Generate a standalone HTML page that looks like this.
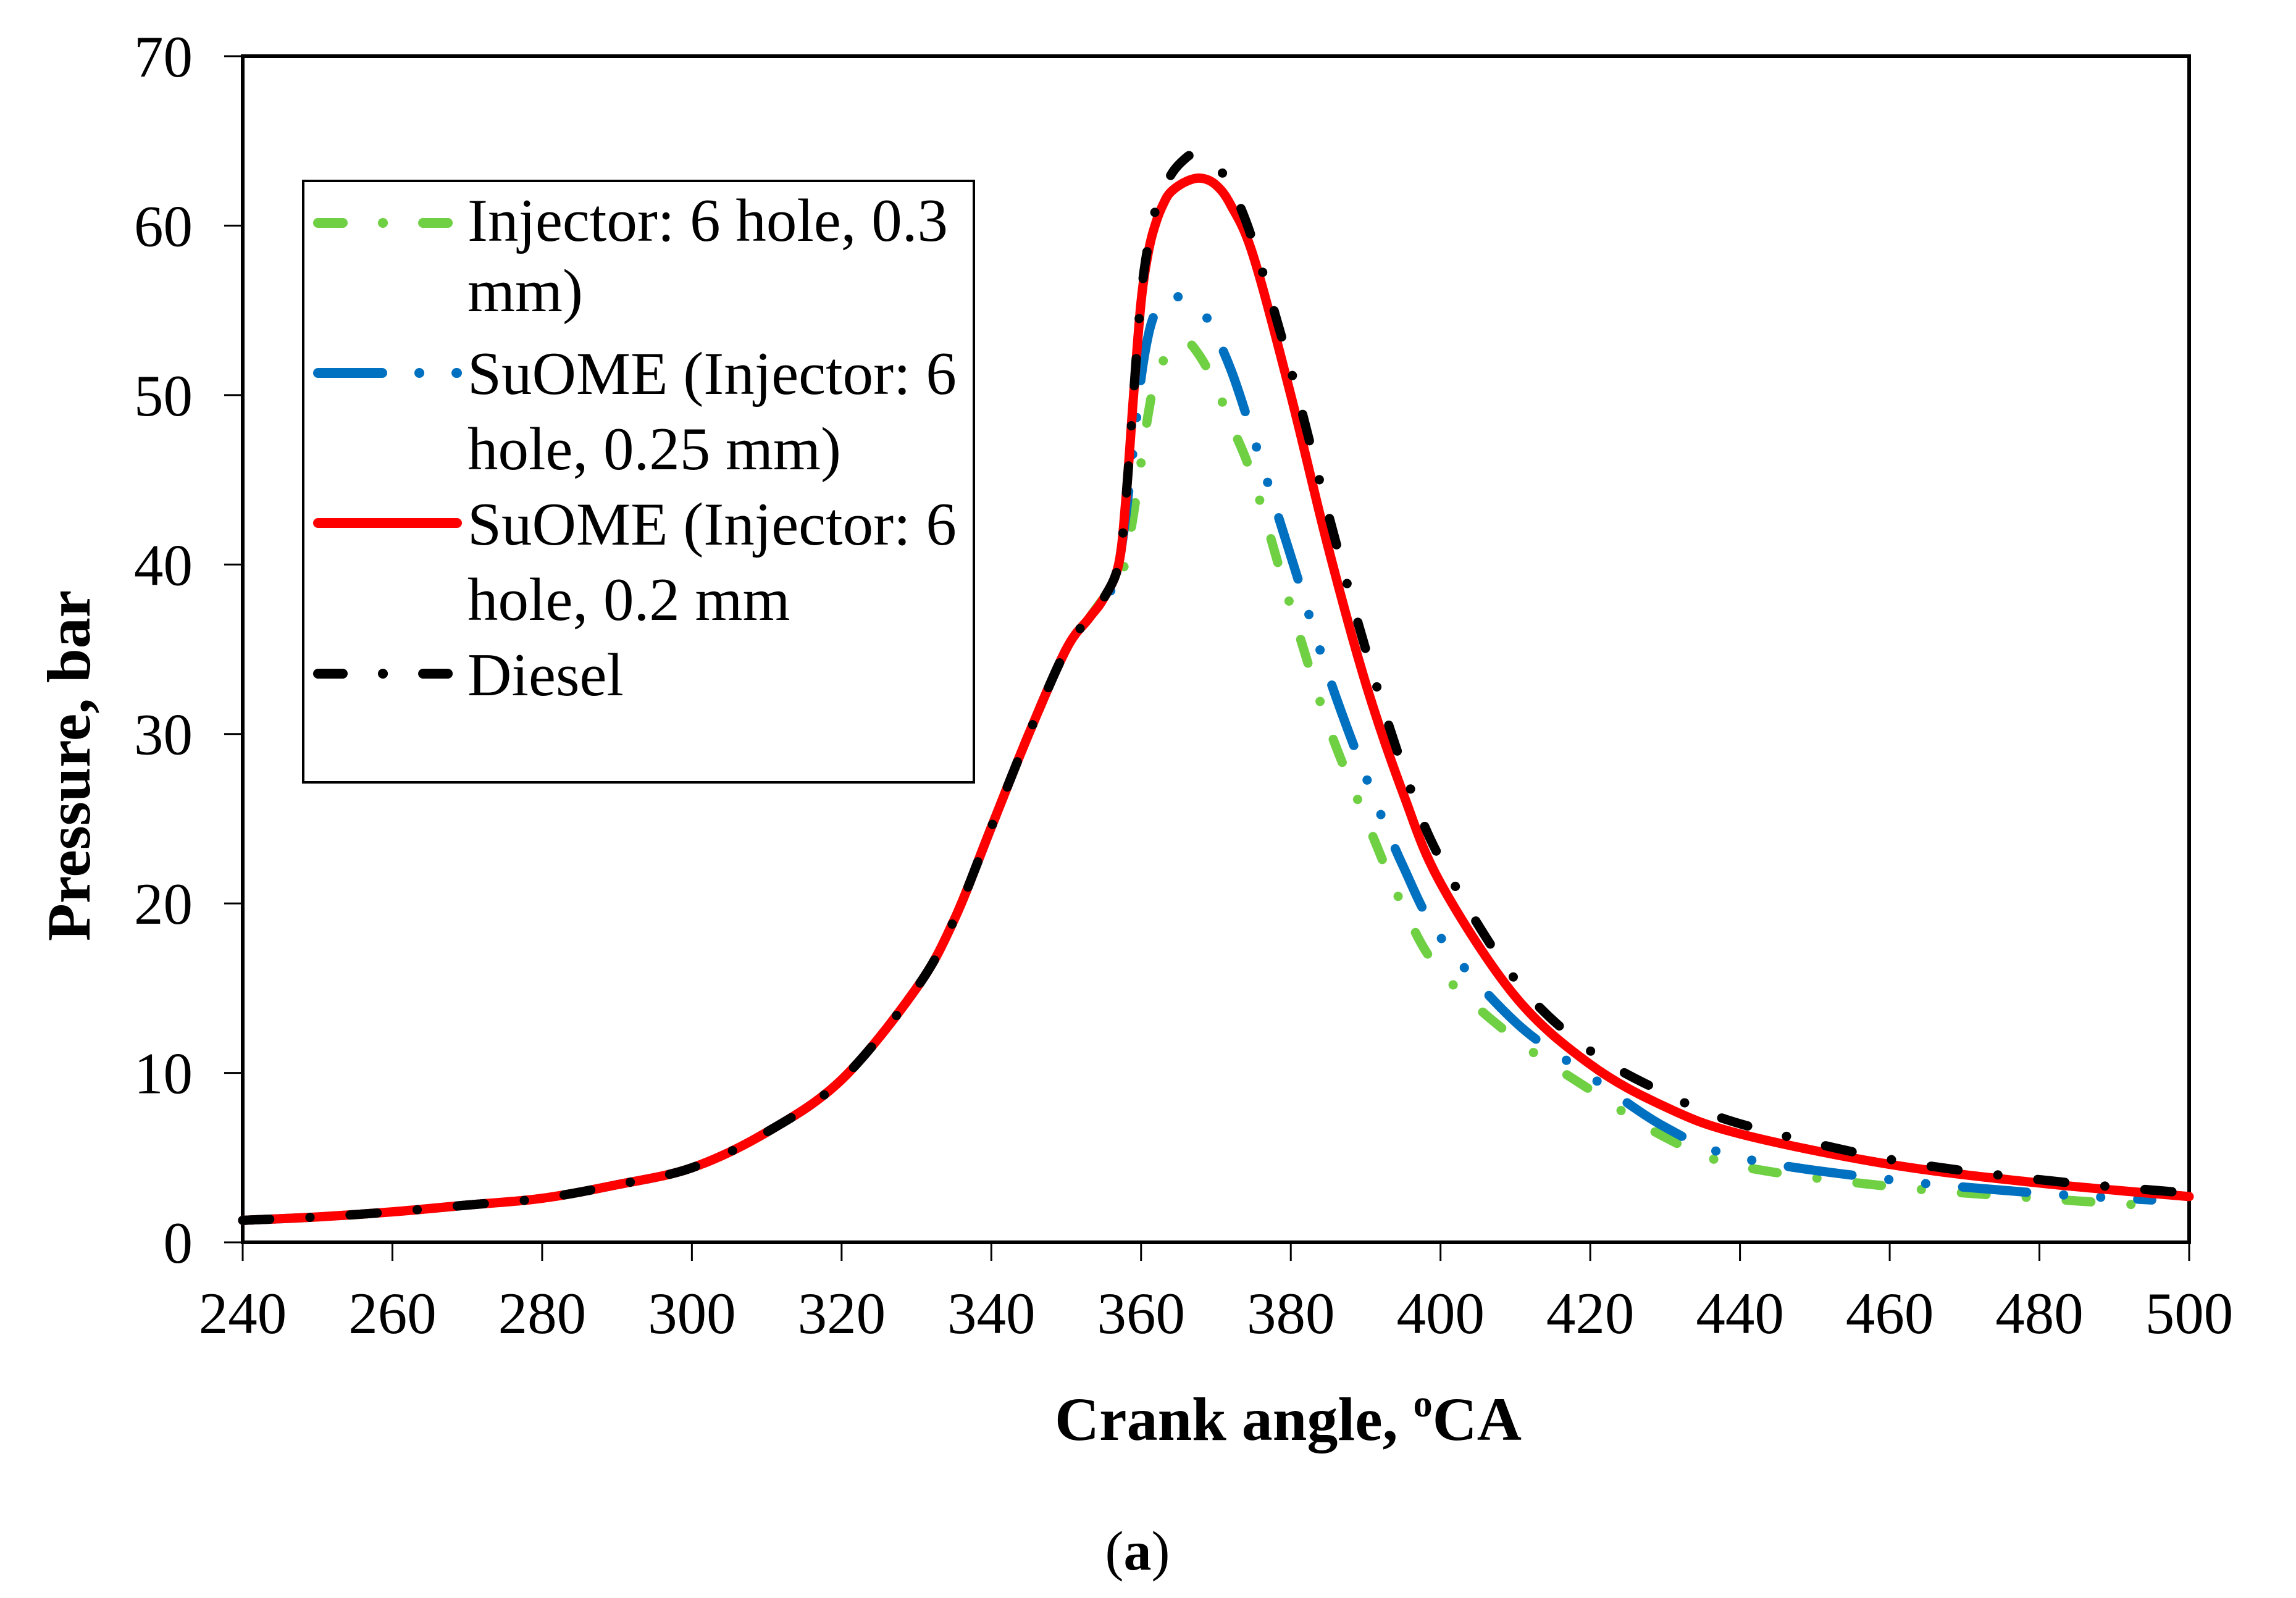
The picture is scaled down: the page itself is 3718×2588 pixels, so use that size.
<!DOCTYPE html>
<html><head><meta charset="utf-8">
<style>
html,body{margin:0;padding:0;background:#fff;}
svg{display:block;font-family:"Liberation Serif",serif;}
</style></head>
<body>
<svg id="chart" width="3718" height="2588" viewBox="0 0 3718 2588" xmlns="http://www.w3.org/2000/svg">
<rect x="0" y="0" width="3718" height="2588" fill="#fff"/>
<g id="grid"></g>
<g id="series"></g>
<g id="legend">
<rect x="491" y="293" width="1086" height="974" fill="#fff" stroke="#000" stroke-width="4"/>
<line x1="515" y1="361" x2="740" y2="361" stroke="#70d044" stroke-width="16" stroke-linecap="round" stroke-dasharray="40 65 0.1 65"/>
<text x="757" y="390" font-size="99"><tspan x="757">Injector: 6 hole, 0.3</tspan><tspan x="757" dy="114">mm)</tspan></text>
<line x1="515" y1="604" x2="740" y2="604" stroke="#0070c0" stroke-width="16" stroke-linecap="round" stroke-dasharray="104 60 0.1 60"/>
<text x="757" y="638" font-size="99"><tspan x="757">SuOME (Injector: 6</tspan><tspan x="757" dy="122">hole, 0.25 mm)</tspan></text>
<line x1="515" y1="847" x2="740" y2="847" stroke="#ff0000" stroke-width="16" stroke-linecap="round"/>
<text x="757" y="882" font-size="99"><tspan x="757">SuOME (Injector: 6</tspan><tspan x="757" dy="122">hole, 0.2 mm</tspan></text>
<line x1="515" y1="1091" x2="740" y2="1091" stroke="#000" stroke-width="16" stroke-linecap="round" stroke-dasharray="40 65 0.1 65"/>
<text x="757" y="1126" font-size="99">Diesel</text>
</g>
<text x="2086" y="2332" font-size="100" font-weight="bold" text-anchor="middle">Crank angle, <tspan font-size="62" dy="-38">o</tspan><tspan dy="38">CA</tspan></text>
<text transform="translate(145,1240) rotate(-90)" font-size="100" font-weight="bold" text-anchor="middle">Pressure, bar</text>
<text x="1842" y="2542" font-size="90" text-anchor="middle">(<tspan font-weight="bold">a</tspan>)</text>
</svg>
<script>
const xTicks = [240,260,280,300,320,340,360,380,400,420,440,460,480,500];
const yTicks = [0,10,20,30,40,50,60,70];
const commonX = [240,250,260,270,280,290,300,310,320,330,335,340,345,350,353,355];
const commonY = [1.3,1.5,1.8,2.2,2.6,3.4,4.4,6.5,9.6,15,19,24.5,30,35,36.8,38];
const greenX = [357,358,359,360,361,362,364,366,368,370,372,375,380,385,390,395,400,410,420,430,440,460,480,497];
const greenY = [38.8,40.5,43,46,49,51,52.8,53.2,52.2,50.5,48.3,45,37.5,30.5,25,19.8,16,12,9,6.2,4.5,3.3,2.6,2.1];
const blueX = [356,357,358,359,360,361,362,363,365,367,369,372,375,380,385,390,395,400,410,420,430,440,460,480,495];
const blueY = [38.5,40,43,47,51,53.6,55,55.7,55.8,55.4,54.4,51.5,47.5,40.5,33.5,27.5,22.2,18,13,9.8,6.8,5,3.7,2.9,2.5];
const redX = [357,358,359,360,361,362,363,364,366,368,370,372,375,380,385,390,395,400,410,420,430,440,460,480,500];
const redY = [40,44,50,55.5,58.5,60.2,61.3,62,62.6,62.8,62.4,61.2,58.2,50,41,33,26.5,21.2,14.5,10.5,8,6.4,4.6,3.5,2.7];
const dieselX = [357,358,359,360,361,362,364,366,367,368,370,372,375,380,385,390,395,400,410,420,430,440,460,480,500];
const dieselY = [40,44,50,55.8,59,61,63,64,64.2,64.1,63.5,62.3,59,51.5,43,35,28,22.6,15.5,11.3,8.8,7,4.9,3.7,2.9];

const X0=393, X1=3545, Y0=2012, Y1=91;
function xs(v){return X0+(v-240)/(500-240)*(X1-X0);}
function ys(v){return Y0-(v-0)/70*(Y0-Y1);}
const NS='http://www.w3.org/2000/svg';
function mk(tag,attrs,parent){const e=document.createElementNS(NS,tag);for(const k in attrs)e.setAttribute(k,attrs[k]);parent.appendChild(e);return e;}
const ax=document.getElementById('grid');
const frame=mk('rect',{x:X0,y:Y1,width:X1-X0,height:Y0-Y1,fill:'none',stroke:'#000','stroke-width':6},ax);


xTicks.forEach(t=>{
  const l=mk('line',{x1:xs(t),x2:xs(t),y1:Y0,y2:Y0+30,stroke:'#000','stroke-width':3},ax);
  
  
  const tx=mk('text',{x:xs(t),y:2159,'font-size':95,'text-anchor':'middle'},ax);
  tx.textContent=t;
  
  
});
yTicks.forEach(t=>{
  const l=mk('line',{x1:X0-30,x2:X0,y1:ys(t),y2:ys(t),stroke:'#000','stroke-width':3},ax);
  
  
  const tx=mk('text',{x:312,y:ys(t)+33,'font-size':95,'text-anchor':'end'},ax);
  tx.textContent=t;
  
  
});
function pathFrom(xa,ya){
  const p=xa.map((x,i)=>[xs(x),ys(ya[i])]);
  let d='M'+p[0][0]+','+p[0][1];
  for(let i=0;i<p.length-1;i++){
    const p0=p[i-1]||p[i],p1=p[i],p2=p[i+1],p3=p[i+2]||p2;
    const c1=[p1[0]+(p2[0]-p0[0])/6,p1[1]+(p2[1]-p0[1])/6];
    const c2=[p2[0]-(p3[0]-p1[0])/6,p2[1]-(p3[1]-p1[1])/6];
    d+=' C'+c1[0]+','+c1[1]+' '+c2[0]+','+c2[1]+' '+p2[0]+','+p2[1];
  }
  return d;
}
const sg=document.getElementById('series');
const defs=[
  ['series-green',greenX,greenY,'#70d044','40 65 0.1 65'],
  ['series-blue',blueX,blueY,'#0070c0','104 60 0.1 60 0.1 60'],
  ['series-red',redX,redY,'#ff0000',''],
  ['series-diesel',dieselX,dieselY,'#000','44 65 0.1 65']
];
defs.forEach(s=>{
  const p=mk('path',{d:pathFrom(commonX.concat(s[1]),commonY.concat(s[2])),fill:'none',stroke:s[3],'stroke-width':15,'stroke-linecap':'round','stroke-linejoin':'round'},sg);
  if(s[4])p.setAttribute('stroke-dasharray',s[4]);
  
  
});
</script>
</body></html>
